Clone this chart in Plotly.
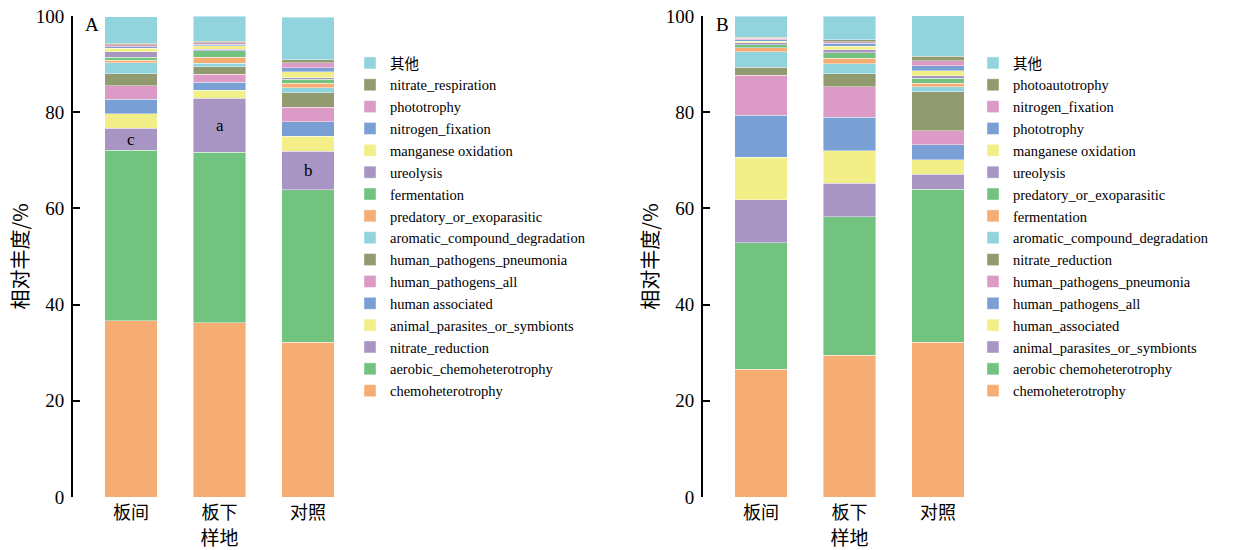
import plotly.graph_objects as go

sites = ["板间", "板下", "对照"]

# Panel A: stack order bottom -> top
a_names = ["chemoheterotrophy", "aerobic_chemoheterotrophy", "nitrate_reduction",
           "animal_parasites_or_symbionts", "human associated", "human_pathogens_all",
           "human_pathogens_pneumonia", "aromatic_compound_degradation",
           "predatory_or_exoparasitic", "fermentation", "ureolysis",
           "manganese oxidation", "nitrogen_fixation", "phototrophy",
           "nitrate_respiration", "其他"]
a_values = [
    [36.6, 36.2, 32.2],
    [35.5, 35.5, 31.7],
    [4.6, 11.2, 8.0],
    [3.0, 1.7, 3.1],
    [3.0, 1.6, 3.05],
    [2.85, 1.7, 3.0],
    [2.4, 1.5, 3.0],
    [2.3, 0.8, 1.0],
    [0.55, 1.2, 1.0],
    [0.6, 1.4, 0.75],
    [1.2, 0.3, 0.4],
    [0.7, 0.7, 1.25],
    [0.35, 0.3, 0.8],
    [0.35, 0.35, 1.0],
    [0.33, 0.3, 0.7],
    [5.55, 5.2, 8.8],
]
a_letters = ["c", "a", "b"]
a_letter_series = "nitrate_reduction"

# Panel B: stack order bottom -> top
b_names = ["chemoheterotrophy", "aerobic chemoheterotrophy", "animal_parasites_or_symbionts",
           "human_associated", "human_pathogens_all", "human_pathogens_pneumonia",
           "nitrate_reduction", "aromatic_compound_degradation", "fermentation",
           "predatory_or_exoparasitic", "ureolysis", "manganese oxidation",
           "phototrophy", "nitrogen_fixation", "photoautotrophy", "其他"]
b_values = [
    [26.6, 29.5, 32.2],
    [26.3, 28.75, 31.75],
    [8.9, 7.0, 3.2],
    [8.8, 6.7, 3.0],
    [8.8, 6.95, 3.05],
    [8.3, 6.35, 2.9],
    [1.6, 2.7, 8.15],
    [3.25, 2.15, 1.05],
    [0.9, 1.15, 0.7],
    [0.55, 1.1, 1.05],
    [0.45, 0.6, 0.5],
    [0.3, 0.75, 1.1],
    [0.3, 0.6, 1.05],
    [0.35, 0.3, 1.0],
    [0.2, 0.45, 0.9],
    [4.4, 4.85, 8.45],
]

palette = ["#f5ad74", "#72c37f", "#a995c4", "#f2ef88", "#7a9fd4", "#dc9ac6",
           "#929a70", "#91d4de"]

FONT = "Liberation Serif, Times New Roman, Noto Sans CJK SC"
CJK = "Noto Sans CJK SC"

fig = go.Figure()

for i, (n, v) in enumerate(zip(a_names, a_values)):
    fig.add_trace(go.Bar(x=sites, y=v, name=n, xaxis="x", yaxis="y",
                         marker=dict(color=palette[i % 8], line=dict(color="rgba(255,255,255,0.7)", width=0.6)),
                         width=0.59, legend="legend"))
for i, (n, v) in enumerate(zip(b_names, b_values)):
    fig.add_trace(go.Bar(x=sites, y=v, name=n, xaxis="x2", yaxis="y2",
                         marker=dict(color=palette[i % 8], line=dict(color="rgba(255,255,255,0.7)", width=0.6)),
                         width=0.59, legend="legend2"))

# significance letters on the nitrate_reduction segment (panel A)
idx = a_names.index(a_letter_series)
for j, s in enumerate(sites):
    base = sum(a_values[k][j] for k in range(idx))
    mid = base + a_values[idx][j] / 2
    fig.add_annotation(x=s, y=mid, xref="x", yref="y", text=a_letters[j], showarrow=False,
                       font=dict(family=FONT, size=17, color="black"))

# figure coordinates (page margin removed below)
W, H = 1255, 550
def px(x):
    return x / W
def py(y):
    return 1 - y / H

ydom = [py(497), py(16)]
axis_common = dict(showgrid=False, zeroline=False, automargin=False)
xcommon = dict(range=[-0.655, 2.655], showline=False, ticks="",
               tickfont=dict(family=CJK, size=18), ticklabelstandoff=3,
               title=dict(text="样地", font=dict(family=CJK, size=19), standoff=1), **axis_common)
ycommon = dict(range=[0, 100], dtick=20, showline=True, linewidth=2, linecolor="black",
               ticks="inside", ticklen=7, tickwidth=2, tickcolor="black",
               tickfont=dict(size=19), ticklabelstandoff=3, ticklabeloverflow="allow",
               title=dict(text="相对丰度/%", font=dict(family=CJK, size=20), standoff=2), **axis_common)

LEG_FONT = 14.5
fig.update_layout(
    width=W, height=H, margin=dict(l=0, r=0, t=0, b=0, autoexpand=False),
    paper_bgcolor="white", plot_bgcolor="white",
    barmode="stack",
    font=dict(family=FONT, size=15, color="black"),
    xaxis=dict(domain=[px(73), px(366)], anchor="y", **xcommon),
    yaxis=dict(domain=ydom, anchor="x", **ycommon),
    xaxis2=dict(domain=[px(703), px(996)], anchor="y2", **xcommon),
    yaxis2=dict(domain=ydom, anchor="x2", **ycommon),
    legend=dict(x=px(350), y=py(47), xanchor="left", yanchor="top", traceorder="reversed",
                font=dict(family=FONT, size=LEG_FONT), tracegroupgap=0, itemwidth=30,
                bgcolor="rgba(0,0,0,0)"),
    legend2=dict(x=px(973), y=py(47), xanchor="left", yanchor="top", traceorder="reversed",
                 font=dict(family=FONT, size=LEG_FONT), tracegroupgap=0, itemwidth=30,
                 bgcolor="rgba(0,0,0,0)"),
)

fig.add_annotation(x=px(73), y=py(16), xref="paper", yref="paper", text="A", showarrow=False,
                   xanchor="left", yanchor="top", xshift=10, yshift=4, font=dict(family=FONT, size=19))
fig.add_annotation(x=px(703), y=py(16), xref="paper", yref="paper", text="B", showarrow=False,
                   xanchor="left", yanchor="top", xshift=11, yshift=4, font=dict(family=FONT, size=19))

fig.write_html("out.html", config={"displayModeBar": False},
               post_script="document.body.style.margin='0';")
